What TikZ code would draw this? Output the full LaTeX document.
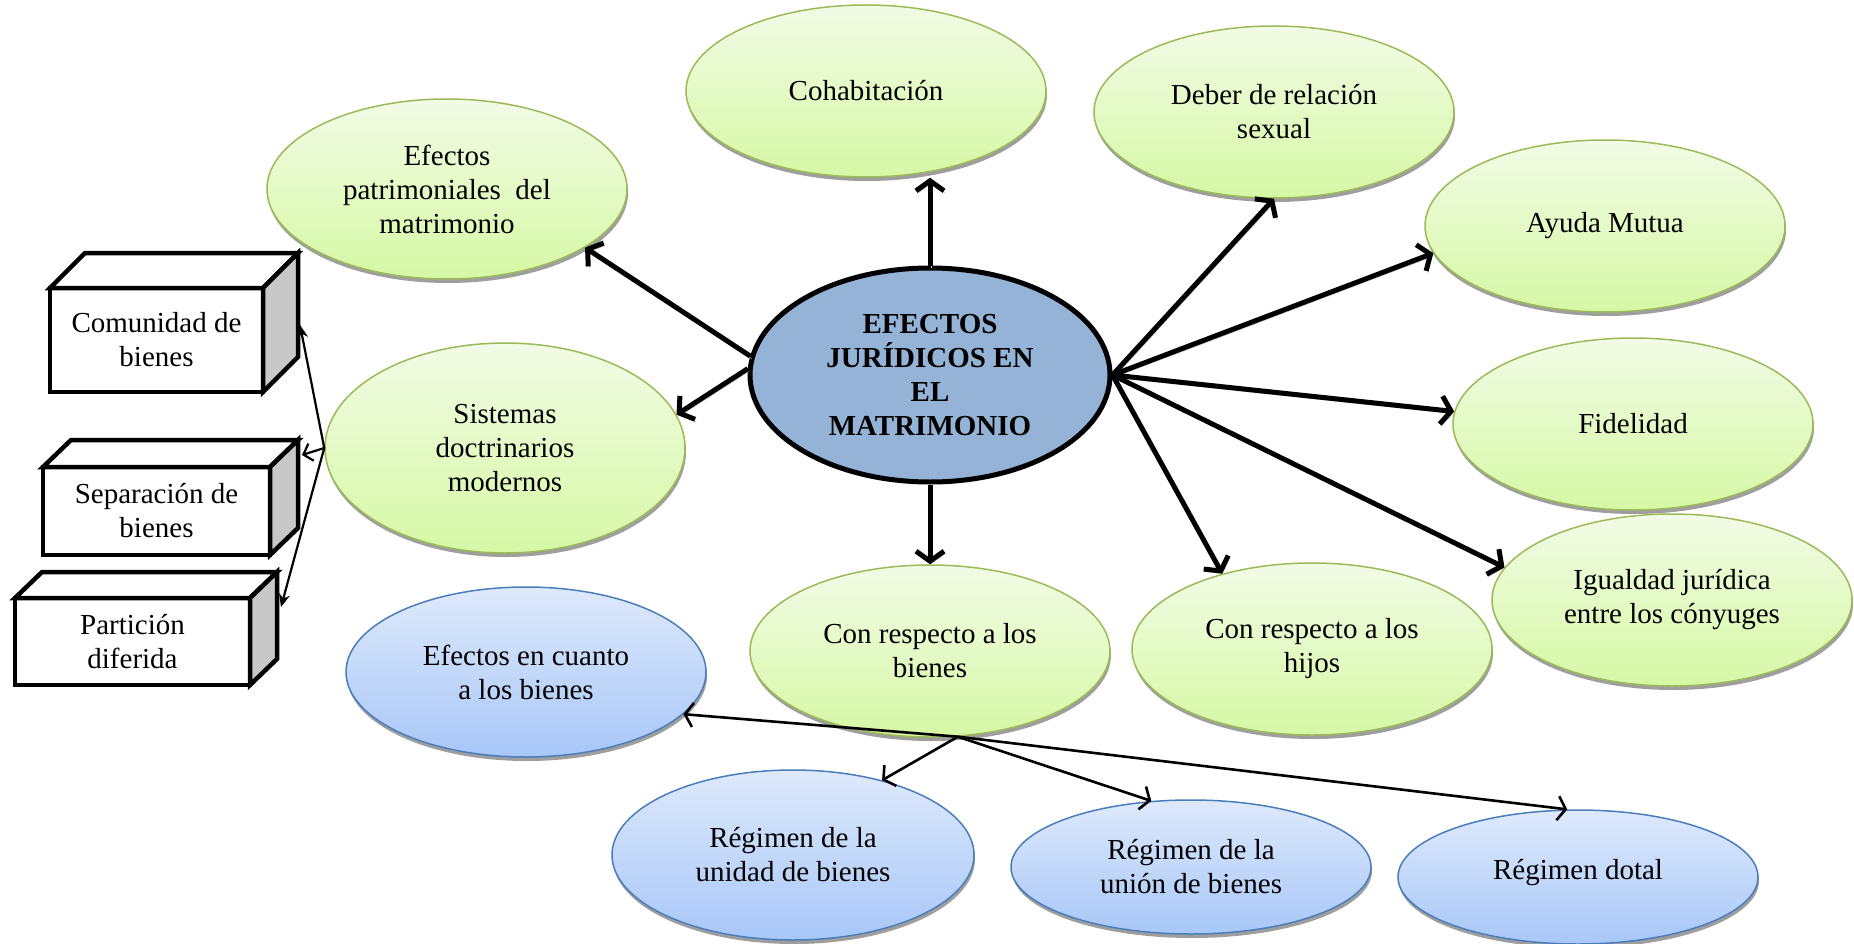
\documentclass[tikz,border=0pt]{standalone}
\usepackage{fontspec}
\setmainfont{Liberation Serif}
\usetikzlibrary{shapes.geometric,arrows.meta,shadows,calc}
\definecolor{gtop}{RGB}{242,251,230}
\definecolor{gbot}{RGB}{214,248,165}
\definecolor{gline}{RGB}{155,187,89}
\definecolor{btop}{RGB}{222,233,251}
\definecolor{bbot}{RGB}{168,199,248}
\definecolor{bline}{RGB}{74,126,187}
\definecolor{cfill}{RGB}{149,179,215}
\definecolor{boxside}{RGB}{200,200,200}
\begin{document}
\begin{tikzpicture}[x=1pt,y=-1pt,
  every node/.style={font=\fontsize{29}{34}\selectfont, align=center, inner sep=0pt},
  oval/.style={ellipse, line width=1.5pt, minimum width=360pt,
    drop shadow={shadow xshift=1pt, shadow yshift=-4pt, fill=black!38, opacity=1}},
  gell/.style={oval, draw=gline, top color=gtop, bottom color=gbot},
  bell/.style={oval, draw=bline, top color=btop, bottom color=bbot},
  boxline/.style={draw=black, line width=4.5pt, line join=miter},
  boxfront/.style={rectangle, boxline, fill=white, outer sep=0pt},
  tshadow/.style={preaction={draw=black!30, transform canvas={shift={(1.5pt,-2.5pt)}}}},
  thick arrow/.style={line width=5pt, tshadow, -{Straight Barb[length=10pt,width=28pt]}},
  mid arrow/.style={line width=2.6pt, -{Straight Barb[length=8pt,width=24pt]}},
  thin arrow/.style={line width=2.2pt, -{Stealth[length=13pt,width=11pt]}},
  thin open/.style={line width=2.2pt, -{Straight Barb[length=8pt,width=18pt]}}
]
\path[use as bounding box, clip] (0,0) rectangle (1854,944);
\fill[white] (0,0) rectangle (1854,944);

% green ellipses
\node[gell, minimum height=172pt] (coh) at (866,91) {\raisebox{-3pt}{Cohabitación}};
\node[gell, minimum height=172pt] (deb) at (1274,112) {Deber de relación\\sexual};
\node[gell, minimum height=172pt] (ayu) at (1605,226) {Ayuda Mutua};
\node[gell, minimum height=172pt] (fid) at (1633,424) {Fidelidad};
\node[gell, minimum height=172pt] (igu) at (1672,600) {Igualdad jurídica\\entre los cónyuges};
\node[gell, minimum height=172pt] (hij) at (1312,649) {Con respecto a los\\hijos};
\node[gell, minimum height=172pt] (crb) at (930,651) {Con respecto a los\\bienes};
\node[gell, minimum height=180pt] (pat) at (447,189) {Efectos\\patrimoniales\ \ del\\matrimonio};
\node[gell, minimum height=210pt] (sis) at (505,448) {Sistemas\\doctrinarios\\modernos};

% blue ellipses
\node[bell, minimum height=170pt] (ecb) at (526,672) {Efectos en cuanto\\a los bienes};
\node[bell, minimum height=170pt, minimum width=362pt] (uni) at (793,855) {Régimen de la\\unidad de bienes};
\node[bell, minimum height=134pt] (uon) at (1191,867) {Régimen de la\\unión de bienes};
\node[bell, minimum height=134pt] (dot) at (1578,877) {\raisebox{15pt}{Régimen dotal}};

% central ellipse
\node[ellipse, draw=black, line width=5pt, fill=cfill, minimum width=360pt, minimum height=214pt,
  font=\fontsize{29}{34}\selectfont\bfseries] (c) at (930,375) {EFECTOS\\JURÍDICOS EN\\EL\\MATRIMONIO};

% 3D boxes
\node[boxfront, minimum width=213pt, minimum height=104pt] (b1) at (156.5,340) {Comunidad de\\bienes};
\draw[boxline, fill=white] (b1.north west) -- ++(35,-35) -- ($(b1.north east)+(35,-35)$) -- (b1.north east) -- cycle;
\draw[boxline, fill=boxside] (b1.north east) -- ++(35,-35) -- ($(b1.south east)+(35,-35)$) -- (b1.south east) -- cycle;

\node[boxfront, minimum width=227pt, minimum height=88pt] (b2) at (156.5,511) {Separación de\\bienes};
\draw[boxline, fill=white] (b2.north west) -- ++(28,-27) -- ($(b2.north east)+(28,-27)$) -- (b2.north east) -- cycle;
\draw[boxline, fill=boxside] (b2.north east) -- ++(28,-27) -- ($(b2.south east)+(28,-27)$) -- (b2.south east) -- cycle;

\node[boxfront, minimum width=235pt, minimum height=87pt] (b3) at (132.5,641.5) {Partición\\diferida};
\draw[boxline, fill=white] (b3.north west) -- ++(27,-26) -- ($(b3.north east)+(27,-26)$) -- (b3.north east) -- cycle;
\draw[boxline, fill=boxside] (b3.north east) -- ++(27,-26) -- ($(b3.south east)+(27,-26)$) -- (b3.south east) -- cycle;

\coordinate (t1) at (300,325);
\coordinate (t2) at (302,455);
\coordinate (t3) at (281,607);

% thin arrows to boxes
\draw[thin arrow] (sis.west) -- (t1);
\draw[thin open] (sis.west) -- (t2);
\draw[thin arrow] (sis.west) -- (t3);

% thick arrows from centre
\draw[thick arrow] (c.north) -- (c.north |- coh.south);
\draw[thick arrow] (c.south) -- (c.south |- crb.north);
\draw[thick arrow] (c.174) -- (pat.-23);
\draw[thick arrow] (c.178) -- (sis.11);
\draw[thick arrow] (c.east) -- (deb.south);
\draw[thick arrow] (c.east) -- (ayu.189);
\draw[thick arrow] (c.east) -- (fid.176);
\draw[thick arrow] (c.east) -- (igu.169);
\draw[thick arrow] (c.east) -- (hij.140);

% arrows from "Con respecto a los bienes"
\coordinate (j) at (crb.-72);
\draw[mid arrow] (j) -- (ecb.-15);
\draw[mid arrow] (j) -- (uni.40);
\draw[mid arrow] (j) -- (uon.121);
\draw[mid arrow] (j) -- (dot.99);
\end{tikzpicture}
\end{document}
